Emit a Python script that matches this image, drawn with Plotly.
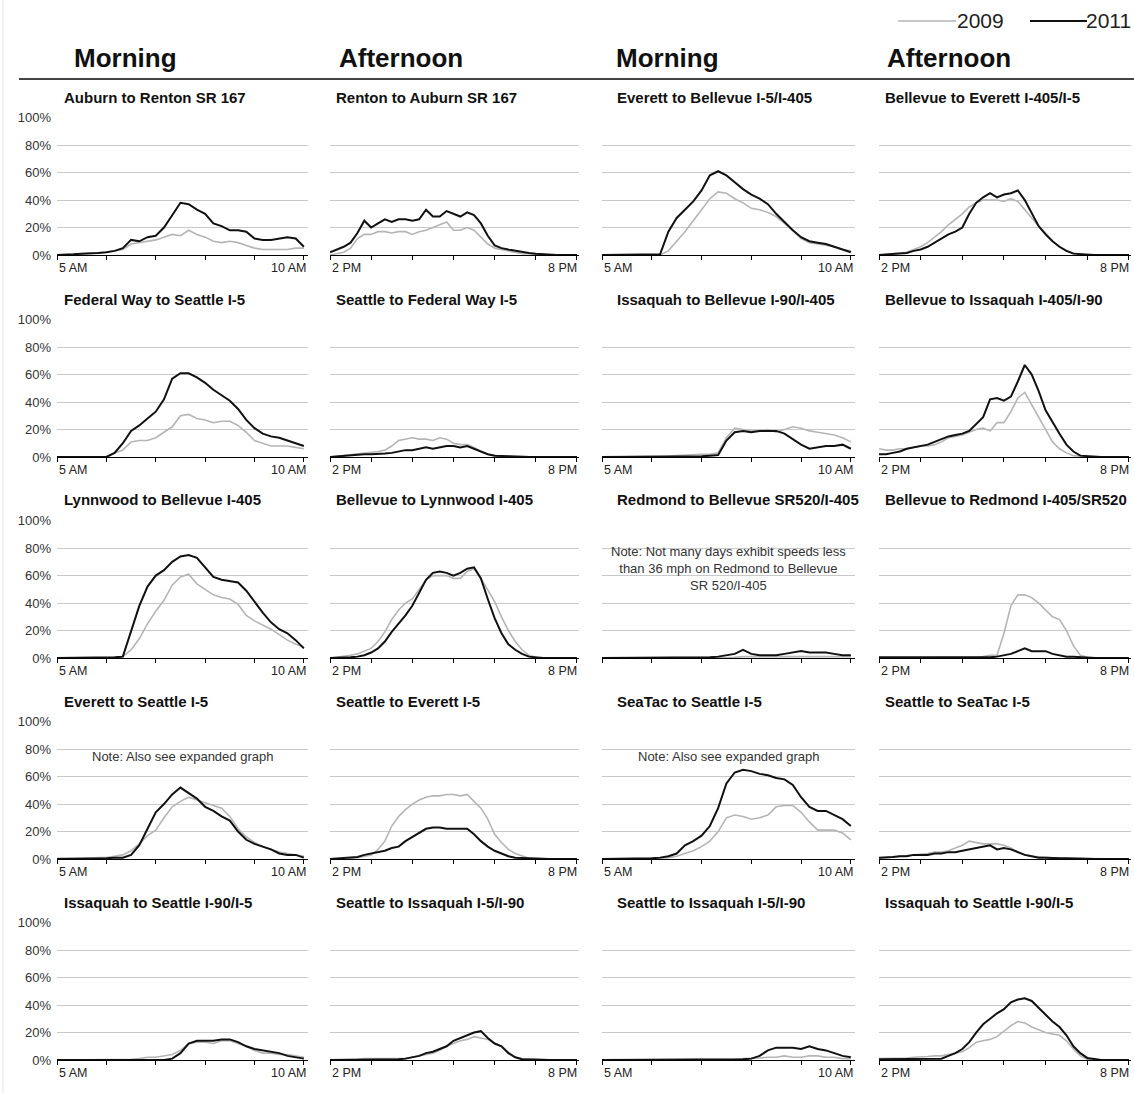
import plotly.graph_objects as go

# Share of days with speeds below 36 mph, 10-minute steps, 2009 vs 2011

MORNING_TIMES = ["5:00", "5:10", "5:20", "5:30", "5:40", "5:50",
                 "6:00", "6:10", "6:20", "6:30", "6:40", "6:50",
                 "7:00", "7:10", "7:20", "7:30", "7:40", "7:50",
                 "8:00", "8:10", "8:20", "8:30", "8:40", "8:50",
                 "9:00", "9:10", "9:20", "9:30", "9:40", "9:50",
                 "10:00"]
AFTERNOON_TIMES = ["2:00", "2:10", "2:20", "2:30", "2:40", "2:50",
                   "3:00", "3:10", "3:20", "3:30", "3:40", "3:50",
                   "4:00", "4:10", "4:20", "4:30", "4:40", "4:50",
                   "5:00", "5:10", "5:20", "5:30", "5:40", "5:50",
                   "6:00", "6:10", "6:20", "6:30", "6:40", "6:50",
                   "7:00", "7:10", "7:20", "7:30", "7:40", "7:50",
                   "8:00"]
MORNING_HOURS = ["5:00", "6:00", "7:00", "8:00", "9:00", "10:00"]
AFTERNOON_HOURS = ["2:00", "3:00", "4:00", "5:00", "6:00", "7:00", "8:00"]
MORNING_LABELS = ["5 AM", "10 AM"]
AFTERNOON_LABELS = ["2 PM", "8 PM"]
PCT_TICKS = [0, 20, 40, 60, 80, 100]
PCT_LABELS = ["0%", "20%", "40%", "60%", "80%", "100%"]

# row 1
auburn_renton_2009 = [0, 0, 0.5, 1, 1, 1.5, 2, 3, 4, 8, 9, 10, 11, 13, 15, 14, 18, 15,
                      13, 10, 9, 10, 9, 7, 5, 4, 4, 4, 4, 5, 5]
auburn_renton_2011 = [0, 0, 0.5, 1, 1, 1.5, 2, 3, 5, 11, 10, 13, 14, 20, 29, 38, 37, 33,
                      30, 23, 21, 18, 18, 17, 12, 11, 11, 12, 13, 12, 6]
renton_auburn_2009 = [0, 1, 2, 5, 12, 15, 15, 17, 17, 16, 17, 17, 15, 17, 18, 20, 22, 24,
                      18, 18, 20, 18, 13, 8, 5, 4, 3, 2, 1, 1, 0.5, 0, 0, 0, 0, 0, 0]
renton_auburn_2011 = [2, 4, 6, 9, 16, 25, 20, 23, 26, 24, 26, 26, 25, 26, 33, 28, 28, 32,
                      30, 28, 31, 29, 23, 14, 7, 5, 4, 3, 2, 1.5, 1, 0.5, 0.3, 0, 0, 0, 0]
everett_bellevue_2009 = [0, 0, 0, 0, 0, 0, 0, 0, 3, 10, 17, 25, 33, 41, 46, 45, 41, 38,
                         34, 33, 31, 28, 23, 18, 12, 9, 8, 7, 6, 4, 3]
everett_bellevue_2011 = [0, 0, 0, 0, 0, 0, 0.5, 0.5, 17, 27, 33, 39, 47, 58, 61, 58, 53, 48,
                         44, 41, 37, 30, 24, 18, 13, 10, 9, 8, 6, 4, 2]
bellevue_everett_2009 = [0, 0.5, 1, 1, 2, 4, 6, 9, 13, 17, 22, 26, 30, 35, 38, 40, 40, 40,
                         39, 41, 39, 33, 27, 21, 16, 10, 6, 3, 1.5, 0.5, 0, 0, 0, 0, 0, 0, 0]
bellevue_everett_2011 = [0, 0.5, 1, 1, 1.5, 3, 4, 6, 9, 12, 15, 17, 20, 30, 38, 42, 45, 42,
                         44, 45, 47, 40, 30, 21, 15, 10, 6, 3, 1, 0.5, 0, 0, 0, 0, 0, 0, 0]

# row 2
fedway_seattle_2009 = [0, 0, 0, 0, 0, 0, 0, 3, 5, 11, 12, 12, 14, 18, 22, 30, 31, 28,
                       27, 25, 26, 26, 23, 18, 12, 10, 8, 8, 8, 7, 6]
fedway_seattle_2011 = [0, 0, 0, 0, 0, 0, 0, 3, 10, 19, 23, 28, 33, 42, 57, 61, 61, 58,
                       54, 49, 45, 41, 35, 27, 21, 17, 15, 14, 12, 10, 8]
seattle_fedway_2009 = [0, 0.5, 1, 1.5, 2, 3, 3, 4, 5, 8, 12, 13, 14, 13, 13, 12, 14, 13,
                       10, 9, 9, 7, 4, 2, 1, 0.5, 0.5, 0.3, 0.3, 0, 0, 0, 0, 0, 0, 0, 0]
seattle_fedway_2011 = [0, 0.5, 1, 1, 1.5, 2, 2, 2, 2.5, 3, 4, 5, 5, 6, 7, 6, 7, 8,
                       8, 7, 8, 6, 4, 2, 1, 0.5, 0.5, 0.3, 0, 0, 0, 0, 0, 0, 0, 0, 0]
issaquah_bellevue_2009 = [0, 0, 0, 0, 0, 0, 0, 0, 0.5, 1, 1.5, 2, 2, 2, 3, 14, 21, 20,
                          19, 19, 20, 18, 20, 22, 21, 19, 18, 17, 16, 14, 11]
issaquah_bellevue_2011 = [0, 0, 0, 0, 0, 0, 0, 0, 0.3, 0.3, 0.3, 0.3, 0.5, 1, 1.5, 12, 18, 19,
                          18, 19, 19, 19, 17, 13, 9, 6, 7, 8, 8, 9, 6]
bellevue_issaquah_2009 = [6, 5, 5, 6, 6, 7, 8, 8, 9, 11, 14, 15, 16, 18, 20, 21, 19, 25,
                          25, 33, 43, 47, 38, 29, 21, 11, 6, 3, 1, 0.3, 0, 0, 0, 0, 0, 0, 0]
bellevue_issaquah_2011 = [2, 2, 3, 4, 6, 7, 8, 9, 11, 13, 15, 16, 17, 19, 24, 29, 42, 43,
                          41, 44, 55, 67, 60, 48, 34, 25, 17, 9, 4, 1, 0.5, 0, 0, 0, 0, 0, 0]

# row 3
lynnwood_bellevue_2009 = [0, 0, 0, 0, 0, 0, 0, 0, 1, 6, 14, 25, 34, 42, 53, 59, 61, 54,
                          50, 46, 44, 43, 39, 31, 27, 24, 21, 17, 13, 10, 8]
lynnwood_bellevue_2011 = [0, 0, 0, 0, 0, 0, 0.3, 0.5, 1, 20, 38, 52, 60, 64, 70, 74, 75, 73,
                          66, 59, 57, 56, 55, 49, 41, 33, 26, 21, 18, 13, 7]
bellevue_lynnwood_2009 = [0, 0.5, 1, 2, 3, 5, 7, 12, 19, 28, 35, 40, 43, 50, 57, 60, 60, 60,
                          58, 58, 63, 65, 58, 50, 41, 30, 20, 12, 6, 2, 0.5, 0.3, 0.3, 0, 0, 0, 0]
bellevue_lynnwood_2011 = [0, 0, 0.3, 0.5, 1, 2, 4, 7, 12, 19, 25, 31, 38, 48, 57, 62, 63, 62,
                          60, 62, 65, 66, 58, 43, 29, 18, 10, 6, 3, 1, 0.3, 0, 0, 0, 0, 0, 0]
redmond_bellevue_2009 = [0, 0, 0, 0, 0, 0, 0, 0, 0, 0, 0, 0, 0.3, 0.3, 0.5, 0.5, 0.5, 1,
                         1, 1, 1, 1, 1, 1, 1, 1, 1, 1, 1, 1, 1]
redmond_bellevue_2011 = [0, 0, 0, 0, 0, 0, 0, 0, 0, 0, 0, 0.3, 0.3, 0.5, 1, 2, 3, 6,
                         3, 2, 2, 2, 3, 4, 5, 4, 4, 4, 3, 2, 2]
bellevue_redmond_2009 = [0, 0, 0, 0, 0, 0, 0, 0, 0, 0, 0, 0, 0, 0, 0.5, 1, 2, 2,
                         18, 38, 46, 46, 44, 40, 35, 30, 28, 20, 9, 2, 0.5, 0, 0, 0, 0, 0, 0]
bellevue_redmond_2011 = [0.5, 0.5, 0.5, 0.3, 0.3, 0.3, 0.3, 0.3, 0.3, 0.3, 0.3, 0.3,
                         0.3, 0.3, 0.3, 0.3, 0.5, 1, 2, 3, 5, 7, 5, 5,
                         5, 3, 2, 1, 1, 0.5, 0.3, 0, 0, 0, 0, 0, 0]

# row 4
everett_seattle_2009 = [0.5, 0.5, 0.3, 0.3, 0.5, 1, 1, 2, 3, 6, 11, 17, 21, 30, 38, 42, 45, 43,
                        41, 39, 37, 31, 22, 16, 12, 9, 7, 5, 4, 3, 2]
everett_seattle_2011 = [0, 0, 0, 0, 0.3, 0.5, 0.5, 1, 1, 3, 10, 22, 34, 40, 47, 52, 48, 44,
                        38, 35, 31, 28, 20, 14, 11, 9, 7, 4, 3, 3, 1]
seattle_everett_2009 = [0, 0, 0, 0.5, 1, 2, 3, 7, 13, 24, 31, 36, 40, 43, 45, 46, 46, 47,
                        47, 46, 47, 42, 37, 29, 18, 12, 7, 4, 2, 0.5, 0.3, 0, 0, 0, 0, 0, 0]
seattle_everett_2011 = [0, 0.5, 1, 1, 1.5, 3, 4, 5, 6, 8, 9, 13, 16, 19, 22, 23, 23, 22,
                        22, 22, 22, 18, 13, 9, 6, 4, 2, 1, 0.5, 0.5, 0.3, 0, 0, 0, 0, 0, 0]
seatac_seattle_2009 = [0, 0, 0, 0, 0, 0, 0, 0.5, 1, 2, 4, 6, 9, 13, 20, 30, 32, 31,
                       29, 30, 32, 38, 39, 39, 34, 27, 21, 21, 21, 19, 14]
seatac_seattle_2011 = [0, 0, 0, 0, 0, 0, 0.5, 1, 2, 4, 10, 13, 17, 24, 37, 55, 63, 65,
                       64, 62, 61, 59, 58, 54, 45, 38, 35, 35, 32, 29, 24]
seattle_seatac_2009 = [0.5, 1, 1, 1.5, 2, 3, 3, 4, 5, 5, 6, 8, 10, 13, 12, 11, 11, 11,
                       10, 8, 5, 3, 2, 1.5, 1, 1, 0.5, 0.5, 0.5, 0.5, 0.3, 0, 0, 0, 0, 0, 0]
seattle_seatac_2011 = [1, 1, 1.5, 2, 2, 3, 3, 3, 4, 4, 5, 5, 6, 7, 8, 9, 10, 7,
                       8, 7, 5, 3, 2, 1, 1, 0.5, 0.5, 0.5, 0.3, 0, 0, 0, 0, 0, 0, 0, 0]

# row 5
issaquah_seattle_am_2009 = [0, 0, 0, 0, 0, 0, 0, 0, 0, 0.5, 1, 2, 2, 3, 4, 7, 12, 13,
                            13, 12, 14, 14, 12, 10, 7, 5, 5, 4, 4, 3, 2]
issaquah_seattle_am_2011 = [0, 0, 0, 0, 0, 0, 0, 0, 0, 0, 0, 0, 0, 0, 1, 5, 12, 14,
                            14, 14, 15, 15, 13, 10, 8, 7, 6, 5, 3, 2, 1]
seattle_issaquah_pm_2009 = [0, 0, 0, 0.3, 0.5, 1, 1, 0.5, 0.5, 0.5, 1, 1, 2, 3, 4, 5, 7, 10,
                            12, 14, 15, 17, 16, 15, 12, 10, 6, 2, 1, 0.5, 0.5, 0.3, 0, 0, 0, 0, 0]
seattle_issaquah_pm_2011 = [0, 0, 0, 0, 0, 0, 0, 0, 0, 0, 0.5, 1, 2, 3, 5, 6, 8, 10,
                            14, 16, 18, 20, 21, 16, 12, 10, 5, 2, 0.5, 0.3, 0, 0, 0, 0, 0, 0, 0]
seattle_issaquah_am_2009 = [0, 0, 0, 0, 0, 0, 0, 0, 0, 0, 0, 0, 0, 0, 0, 0, 0.5, 1,
                            1, 1.5, 2, 2, 3, 2, 2, 3, 3, 2, 2, 1, 1]
seattle_issaquah_am_2011 = [0, 0, 0, 0, 0, 0, 0, 0, 0, 0, 0, 0, 0, 0, 0, 0, 0, 0.5,
                            1, 3, 7, 9, 9, 9, 8, 10, 8, 7, 5, 3, 2]
issaquah_seattle_pm_2009 = [1, 1, 1, 1.5, 1.5, 2, 2, 2.5, 3, 3, 4, 5, 6, 9, 13, 14, 15, 17,
                            21, 25, 28, 27, 24, 22, 20, 19, 18, 14, 8, 3, 0.5, 0.3, 0, 0, 0, 0, 0]
issaquah_seattle_pm_2011 = [0.5, 0.5, 0.5, 1, 1, 0.5, 0.5, 0.5, 1, 1, 3, 5, 8, 13, 20, 26, 30, 34,
                            37, 42, 44, 45, 43, 38, 33, 28, 24, 18, 10, 5, 1.5, 0.5, 0, 0, 0, 0, 0]

PANELS = [
    ("Auburn to Renton SR 167", "am", auburn_renton_2009, auburn_renton_2011),
    ("Renton to Auburn SR 167", "pm", renton_auburn_2009, renton_auburn_2011),
    ("Everett to Bellevue I-5/I-405", "am", everett_bellevue_2009, everett_bellevue_2011),
    ("Bellevue to Everett I-405/I-5", "pm", bellevue_everett_2009, bellevue_everett_2011),
    ("Federal Way to Seattle I-5", "am", fedway_seattle_2009, fedway_seattle_2011),
    ("Seattle to Federal Way I-5", "pm", seattle_fedway_2009, seattle_fedway_2011),
    ("Issaquah to Bellevue I-90/I-405", "am", issaquah_bellevue_2009, issaquah_bellevue_2011),
    ("Bellevue to Issaquah I-405/I-90", "pm", bellevue_issaquah_2009, bellevue_issaquah_2011),
    ("Lynnwood to Bellevue I-405", "am", lynnwood_bellevue_2009, lynnwood_bellevue_2011),
    ("Bellevue to Lynnwood I-405", "pm", bellevue_lynnwood_2009, bellevue_lynnwood_2011),
    ("Redmond to Bellevue SR520/I-405", "am", redmond_bellevue_2009, redmond_bellevue_2011),
    ("Bellevue to Redmond I-405/SR520", "pm", bellevue_redmond_2009, bellevue_redmond_2011),
    ("Everett to Seattle I-5", "am", everett_seattle_2009, everett_seattle_2011),
    ("Seattle to Everett I-5", "pm", seattle_everett_2009, seattle_everett_2011),
    ("SeaTac to Seattle I-5", "am", seatac_seattle_2009, seatac_seattle_2011),
    ("Seattle to SeaTac I-5", "pm", seattle_seatac_2009, seattle_seatac_2011),
    ("Issaquah to Seattle I-90/I-5", "am", issaquah_seattle_am_2009, issaquah_seattle_am_2011),
    ("Seattle to Issaquah I-5/I-90", "pm", seattle_issaquah_pm_2009, seattle_issaquah_pm_2011),
    ("Seattle to Issaquah I-5/I-90", "am", seattle_issaquah_am_2009, seattle_issaquah_am_2011),
    ("Issaquah to Seattle I-90/I-5", "pm", issaquah_seattle_pm_2009, issaquah_seattle_pm_2011),
]

HEADINGS = ["Morning", "Afternoon", "Morning", "Afternoon"]
NOTES = {
    10: "Note: Not many days exhibit speeds less<br>than 36 mph on Redmond to Bellevue<br>SR 520/I-405",
    12: "Note: Also see expanded graph",
    14: "Note: Also see expanded graph",
}
NOTE_Y = {10: 65, 12: 75, 14: 75}

# page geometry in pixels
W, H = 1134, 1093
COL_LEFT = [57, 330, 602, 879]
COL_RIGHT = [308, 579, 855, 1131]
TITLE_X = [62, 334, 615, 883]
HEAD_X = [72, 337, 614, 885]
ROW_ZERO = [255, 457, 658, 859, 1060]
PANEL_H = 138

FONT = "Liberation Sans, Arial, Helvetica, sans-serif"
GRAY09 = "#b5b5b5"
BLACK11 = "#111111"


def px(x):
    return x / W


def py(y):
    return 1 - y / H


fig = go.Figure()
annotations = []

for i, (title, period, y09, y11) in enumerate(PANELS):
    r, c = divmod(i, 4)
    n = i + 1
    sfx = "" if n == 1 else str(n)
    xa, ya = "x" + sfx, "y" + sfx
    if period == "am":
        times, hours, labels, span = MORNING_TIMES, MORNING_HOURS, MORNING_LABELS, 30.5
    else:
        times, hours, labels, span = AFTERNOON_TIMES, AFTERNOON_HOURS, AFTERNOON_LABELS, 36.3

    fig.add_trace(go.Scatter(x=times, y=y09, xaxis=xa, yaxis=ya, mode="lines",
                             line=dict(color=GRAY09, width=1.6), name="2009",
                             showlegend=False))
    fig.add_trace(go.Scatter(x=times, y=y11, xaxis=xa, yaxis=ya, mode="lines",
                             line=dict(color=BLACK11, width=2), name="2011",
                             showlegend=False))

    fig.layout["xaxis" + sfx] = dict(
        domain=[px(COL_LEFT[c]), px(COL_RIGHT[c])], anchor=ya,
        type="category", categoryarray=times, range=[0, span],
        tickvals=hours, showticklabels=False, ticks="outside", ticklen=4,
        tickcolor="black", tickwidth=1, showline=True, linecolor="black",
        linewidth=1, showgrid=False, zeroline=False, fixedrange=True)
    fig.layout["yaxis" + sfx] = dict(
        domain=[py(ROW_ZERO[r]), py(ROW_ZERO[r] - PANEL_H)], anchor=xa,
        range=[0, 100.5], tickmode="array", tickvals=PCT_TICKS, ticktext=PCT_LABELS,
        showticklabels=(c == 0), ticklabelstandoff=5,
        tickfont=dict(size=13, color="#333333", family=FONT),
        showgrid=True, gridcolor="#c9c9c9", gridwidth=1,
        zeroline=False, showline=False, fixedrange=True)

    # panel title
    annotations.append(dict(text="<b>" + title + "</b>", xref="paper", yref="paper",
                            x=px(TITLE_X[c]), y=py(ROW_ZERO[r] - 158),
                            xanchor="left", yanchor="middle", showarrow=False,
                            font=dict(size=15, color="#111111", family=FONT)))

    # corner time labels (missing on Redmond to Bellevue)
    if i != 10:
        for xpos, anchor, text in [(0, "left", labels[0]), (1, "right", labels[1])]:
            annotations.append(dict(text=text, xref=xa + " domain", yref=ya + " domain",
                                    x=xpos, y=0, xanchor=anchor, yanchor="middle",
                                    yshift=-13, showarrow=False,
                                    font=dict(size=12.5, color="#222222", family=FONT)))

    if i in NOTES:
        annotations.append(dict(text=NOTES[i], xref=xa + " domain", yref=ya,
                                x=0.5, y=NOTE_Y[i], xanchor="center", yanchor="middle",
                                showarrow=False, align="center",
                                font=dict(size=13, color="#333333", family=FONT)))

# column headings
for c, head in enumerate(HEADINGS):
    annotations.append(dict(text="<b>" + head + "</b>", xref="paper", yref="paper",
                            x=px(HEAD_X[c]), y=py(58), xanchor="left", yanchor="middle",
                            showarrow=False, font=dict(size=26, color="#111111", family=FONT)))

# legend text
for text, xpos, anchor in [("2009", 1006, "right"), ("2011", 1133, "right")]:
    annotations.append(dict(text=text, xref="paper", yref="paper", x=px(xpos), y=py(20),
                            xanchor=anchor, yanchor="middle", showarrow=False,
                            font=dict(size=21, color="#222222", family=FONT)))

shapes = [
    # rule under the headings
    dict(type="line", xref="paper", yref="paper", x0=px(19), x1=1, y0=py(79), y1=py(79),
         line=dict(color="#444444", width=2)),
    # legend samples
    dict(type="line", xref="paper", yref="paper", x0=px(898), x1=px(956), y0=py(21), y1=py(21),
         line=dict(color=GRAY09, width=1.6)),
    dict(type="line", xref="paper", yref="paper", x0=px(1030), x1=px(1087), y0=py(21), y1=py(21),
         line=dict(color=BLACK11, width=2)),
    # faint page edge on the left
    dict(type="line", xref="paper", yref="paper", x0=px(3), x1=px(3), y0=0, y1=1,
         line=dict(color="#e2e2e2", width=1)),
]

fig.update_layout(
    width=W, height=H,
    margin=dict(l=0, r=0, t=0, b=0, autoexpand=False),
    paper_bgcolor="white", plot_bgcolor="white",
    font=dict(family=FONT, color="#111111"),
    annotations=annotations, shapes=shapes,
    showlegend=False,
)

# drop the default page margin so the figure sits at the window corner
fig.write_html("out.html", config={"displayModeBar": False},
               post_script="document.body.style.margin='0';document.body.style.overflow='hidden';")
